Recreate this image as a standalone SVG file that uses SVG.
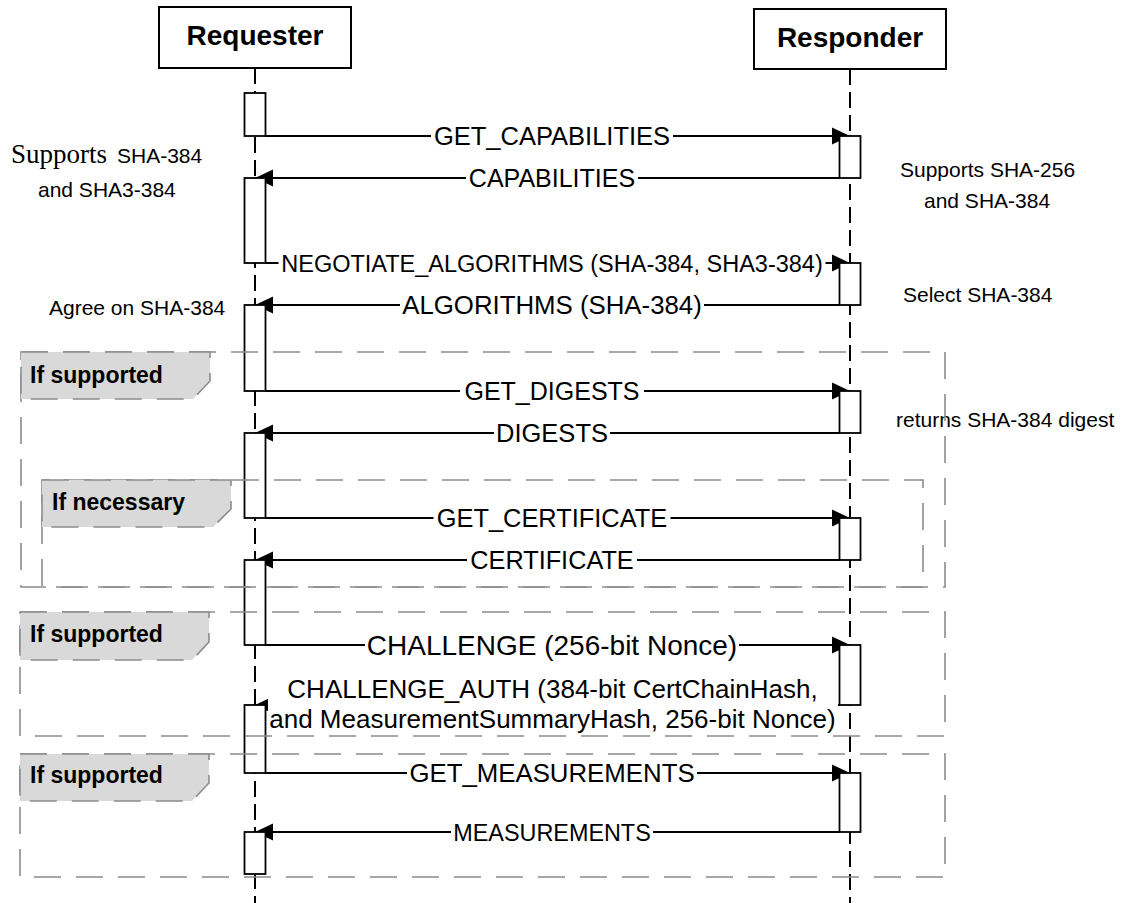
<svg xmlns="http://www.w3.org/2000/svg" width="1122" height="903" viewBox="0 0 1122 903">
<style>
.box{fill:#fff;stroke:#000;stroke-width:2}
.life{stroke:#000;stroke-width:2;stroke-dasharray:16 7;fill:none}
.act{fill:#fff;stroke:#000;stroke-width:1.8}
.msg{stroke:#000;stroke-width:1.8;fill:none;marker-end:url(#ah)}
.lbg{fill:#fff;stroke:none}
.lbl{font-family:"Liberation Sans",Arial,sans-serif;fill:#000;text-anchor:middle}
.note{font-family:"Liberation Sans",Arial,sans-serif;font-size:21px;fill:#000}
.part{font-family:"Liberation Sans",Arial,sans-serif;font-weight:bold;font-size:28px;text-anchor:middle;fill:#000}
.frame{fill:none;stroke:#8c8c8c;stroke-width:1.6;stroke-dasharray:27 15}
.tab{fill:#d9d9d9;stroke:#8c8c8c;stroke-width:1.6;stroke-dasharray:27 15}
.tabt{font-family:"Liberation Sans",Arial,sans-serif;font-weight:bold;font-size:23px;fill:#000}
</style>
<defs>
<marker id="ah" markerWidth="18" markerHeight="18" refX="18" refY="9" orient="auto" markerUnits="userSpaceOnUse">
<path d="M0,0.5 L18,9 L0,17.5 z" fill="#000"/>
</marker>
</defs>
<rect width="1122" height="903" fill="#fff"/>

<g id="requester">
<line class="life" x1="255" y1="68" x2="255" y2="903"/>
<rect class="box" x="159" y="7" width="192" height="61"/>
<text class="part" x="255" y="45">Requester</text>
</g>
<g id="responder">
<line class="life" x1="850" y1="69" x2="850" y2="903"/>
<rect class="box" x="754" y="9" width="192" height="60"/>
<text class="part" x="850" y="47">Responder</text>
</g>

<g id="notes">
<text x="11" y="163"><tspan font-family="'Liberation Serif','Times New Roman',serif" font-size="27">Supports</tspan><tspan x="117" font-family="'Liberation Sans',Arial,sans-serif" font-size="21">SHA-384</tspan></text>
<text class="note" x="38" y="197">and SHA3-384</text>
<text class="note" x="49" y="315">Agree on SHA-384</text>
<text class="note" x="900" y="177">Supports SHA-256</text>
<text class="note" x="924" y="208">and SHA-384</text>
<text class="note" x="903" y="302">Select SHA-384</text>
<text class="note" x="896" y="427">returns SHA-384 digest</text>
</g>

<g id="connectors">
<line class="msg" x1="265.5" y1="136" x2="850" y2="136"/>
<line class="msg" x1="839.5" y1="178" x2="255" y2="178"/>
<line class="msg" x1="265.5" y1="263" x2="850" y2="263"/>
<line class="msg" x1="839.5" y1="305" x2="255" y2="305"/>
<line class="msg" x1="265.5" y1="391" x2="850" y2="391"/>
<line class="msg" x1="839.5" y1="433" x2="255" y2="433"/>
<line class="msg" x1="265.5" y1="518" x2="850" y2="518"/>
<line class="msg" x1="839.5" y1="560" x2="255" y2="560"/>
<line class="msg" x1="265.5" y1="645" x2="850" y2="645"/>
<line class="msg" x1="839.5" y1="705" x2="255" y2="705"/>
<line class="msg" x1="265.5" y1="773" x2="850" y2="773"/>
<line class="msg" x1="839.5" y1="832" x2="255" y2="832"/>

<rect class="lbg" x="431" y="123" width="242" height="26"/>
<text class="lbl" x="552" y="145" font-size="25.5">GET_CAPABILITIES</text>
<rect class="lbg" x="466" y="165" width="172" height="26"/>
<text class="lbl" x="552" y="187" font-size="25">CAPABILITIES</text>
<rect class="lbg" x="278.5" y="250" width="547" height="26"/>
<text class="lbl" x="552" y="271.5" font-size="23.5">NEGOTIATE_ALGORITHMS (SHA-384, SHA3-384)</text>
<rect class="lbg" x="400" y="292" width="304" height="26"/>
<text class="lbl" x="552" y="314" font-size="25.8">ALGORITHMS (SHA-384)</text>
<rect class="lbg" x="460" y="378" width="184" height="26"/>
<text class="lbl" x="552" y="400" font-size="25">GET_DIGESTS</text>
<rect class="lbg" x="494" y="420" width="116" height="26"/>
<text class="lbl" x="552" y="442" font-size="25.5">DIGESTS</text>
<rect class="lbg" x="433.5" y="505" width="237" height="26"/>
<text class="lbl" x="552" y="527" font-size="25.4">GET_CERTIFICATE</text>
<rect class="lbg" x="467" y="547" width="170" height="26"/>
<text class="lbl" x="552" y="569" font-size="25.3">CERTIFICATE</text>
<rect class="lbg" x="365" y="631" width="374" height="28"/>
<text class="lbl" x="552" y="655" font-size="28">CHALLENGE (256-bit Nonce)</text>
<rect class="lbg" x="268" y="678" width="570" height="55"/>
<text class="lbl" x="552.5" y="698" font-size="26">CHALLENGE_AUTH (384-bit CertChainHash,</text>
<text class="lbl" x="552.5" y="728" font-size="26">and MeasurementSummaryHash, 256-bit Nonce)</text>
<rect class="lbg" x="407" y="760" width="290" height="26"/>
<text class="lbl" x="552" y="782" font-size="25.8">GET_MEASUREMENTS</text>
<rect class="lbg" x="451" y="819" width="202" height="26"/>
<text class="lbl" x="552" y="840.5" font-size="23.4">MEASUREMENTS</text>
</g>

<g id="activations">
<rect class="act" x="244.5" y="93" width="21" height="43"/>
<rect class="act" x="244.5" y="178" width="21" height="85"/>
<rect class="act" x="244.5" y="305" width="21" height="86"/>
<rect class="act" x="244.5" y="433" width="21" height="85"/>
<rect class="act" x="244.5" y="560" width="21" height="85"/>
<rect class="act" x="244.5" y="705" width="21" height="68"/>
<rect class="act" x="244.5" y="832" width="21" height="42"/>
<rect class="act" x="839.5" y="136" width="21" height="42"/>
<rect class="act" x="839.5" y="263" width="21" height="42"/>
<rect class="act" x="839.5" y="391" width="21" height="42"/>
<rect class="act" x="839.5" y="518" width="21" height="42"/>
<rect class="act" x="839.5" y="645" width="21" height="60"/>
<rect class="act" x="839.5" y="773" width="21" height="59"/>
</g>

<g id="frame-digests">
<rect class="frame" x="21" y="352" width="924" height="235"/>
<path class="tab" d="M21,352 L210,352 L210,381 L193,399 L21,399 Z"/>
<text class="tabt" x="30" y="383">If supported</text>
</g>
<g id="frame-certificate">
<rect class="frame" x="42" y="480" width="881" height="107" style="stroke-dashoffset:20"/>
<path class="tab" d="M42,480 L231,480 L231,509 L213,527 L42,527 Z"/>
<text class="tabt" x="52" y="510">If necessary</text>
</g>
<g id="frame-challenge">
<rect class="frame" x="20" y="612" width="925" height="124"/>
<path class="tab" d="M20,612 L209,612 L209,642 L192,660 L20,660 Z"/>
<text class="tabt" x="30" y="642">If supported</text>
</g>
<g id="frame-measurements">
<rect class="frame" x="20" y="754" width="925" height="123"/>
<path class="tab" d="M20,754 L209,754 L209,783 L192,801 L20,801 Z"/>
<text class="tabt" x="30" y="783">If supported</text>
</g>
</svg>
